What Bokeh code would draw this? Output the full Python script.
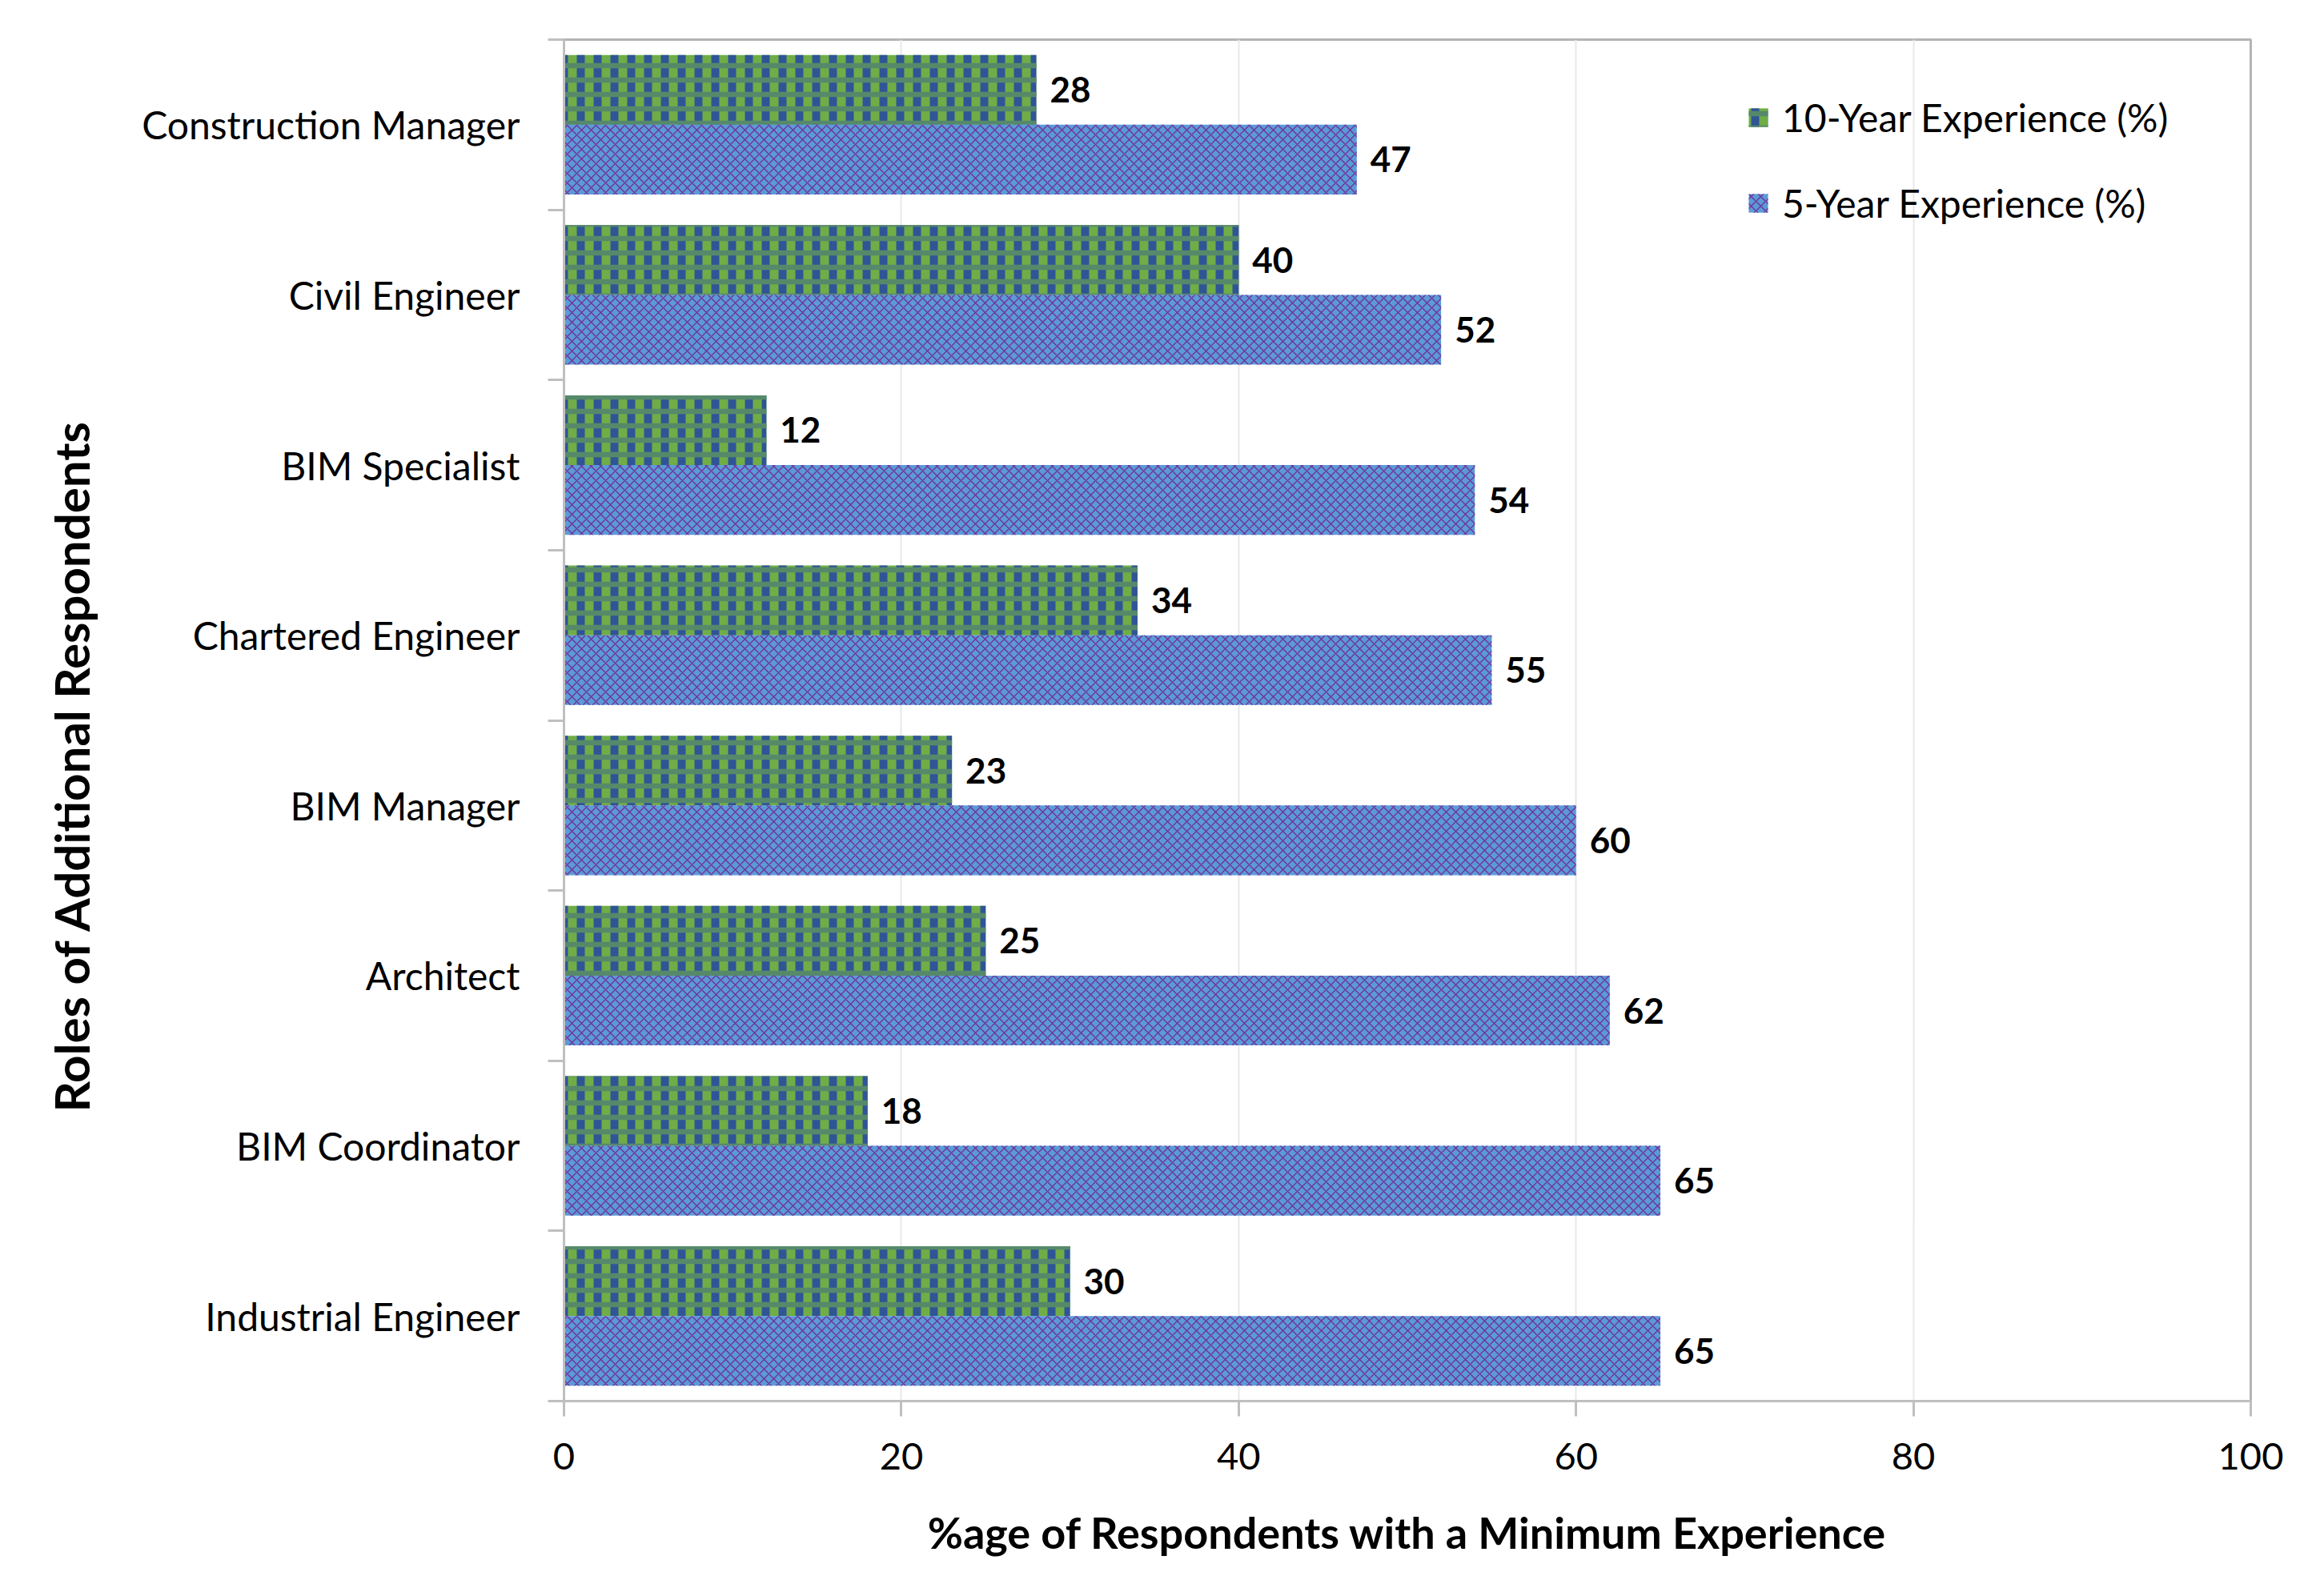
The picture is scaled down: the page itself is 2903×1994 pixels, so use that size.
from bokeh.plotting import figure
from bokeh.models import ColumnDataSource, FixedTicker, Legend, LegendItem, Range1d, Title
from bokeh.embed import file_html
from bokeh.resources import INLINE
from bokeh.core.properties import value

# ---- data (top to bottom as in the chart) ----
roles = ["Construction Manager", "Civil Engineer", "BIM Specialist", "Chartered Engineer",
         "BIM Manager", "Architect", "BIM Coordinator", "Industrial Engineer"]
ten_year = [28, 40, 12, 34, 23, 25, 18, 30]
five_year = [47, 52, 54, 55, 60, 62, 65, 65]
x_ticks = [0, 20, 40, 60, 80, 100]
series_names = ["10-Year Experience (%)", "5-Year Experience (%)"]
x_title = "%age of Respondents with a Minimum Experience"
y_title = "Roles of Additional Respondents"

# ---- styling ----
FONT_NAME = "Lato"
FONT = value(FONT_NAME)
GREEN, DKBLUE = "#70ad47", "#2f5597"
LTBLUE, PURPLE = "#5b9bd5", "#7030a0"
AXIS_GREY = "#bfbfbf"
BAR_H = 0.41
OFF = 0.205

n = len(roles)
centers = [float(n - i - 0.5) for i in range(n)]
src = ColumnDataSource(dict(
    role=roles,
    ten=ten_year,
    five=five_year,
    y_ten=[c + OFF for c in centers],
    y_five=[c - OFF for c in centers],
    ten_lbl=[str(v) for v in ten_year],
    five_lbl=[str(v) for v in five_year],
))

p = figure(width=2887, height=1978, x_range=Range1d(0, 100), y_range=Range1d(0, n),
           output_backend="svg", toolbar_location=None,
           min_border_left=704, min_border_right=76, min_border_top=49, min_border_bottom=228)
p.background_fill_color = "white"
p.border_fill_color = "white"
p.outline_line_color = "#b4b4b4"
p.outline_line_width = 3

r_ten = p.hbar(y="y_ten", left=0, right="ten", height=BAR_H, source=src,
               fill_color=GREEN, line_color=None,
               hatch_pattern="vertical_line", hatch_color=DKBLUE,
               hatch_weight=10, hatch_scale=21)
r_ten_b = p.hbar(y="y_ten", left=0, right="ten", height=BAR_H, source=src,
                 fill_alpha=0, line_color=None,
                 hatch_pattern="horizontal_line", hatch_color="#56896a",
                 hatch_weight=6.5, hatch_scale=18)
r_five = p.hbar(y="y_five", left=0, right="five", height=BAR_H, source=src,
                fill_color=LTBLUE, line_color=None,
                hatch_pattern="diagonal_cross", hatch_color=PURPLE,
                hatch_weight=1.4, hatch_scale=12)

lbl_kw = dict(x_offset=17, text_baseline="middle", text_align="left", text_font=FONT,
              text_font_style="bold", text_font_size="44px", text_color="black", source=src)
p.text(x="ten", y="y_ten", text="ten_lbl", **lbl_kw)
p.text(x="five", y="y_five", text="five_lbl", **lbl_kw)

# ---- axes ----
xa = p.xaxis[0]
xa.ticker = FixedTicker(ticks=x_ticks)
xa.axis_line_color = AXIS_GREY
xa.axis_line_width = 3
xa.major_tick_line_color = AXIS_GREY
xa.major_tick_line_width = 3
xa.major_tick_out = 19
xa.major_tick_in = 0
xa.minor_tick_line_color = None
xa.major_label_text_font = FONT_NAME
xa.major_label_text_font_size = "47px"
xa.major_label_text_color = "black"
xa.major_label_standoff = 33
xa.axis_label = x_title
xa.axis_label_text_font = FONT_NAME
xa.axis_label_text_font_style = "bold"
xa.axis_label_text_font_size = "54px"
xa.axis_label_text_color = "black"
xa.axis_label_standoff = 43

ya = p.yaxis[0]
ya.ticker = FixedTicker(ticks=centers, minor_ticks=[float(i) for i in range(n + 1)])
ya.major_label_overrides = {c: r for c, r in zip(centers, roles)}
ya.axis_line_color = AXIS_GREY
ya.axis_line_width = 3
ya.major_tick_out = 0
ya.major_tick_in = 0
ya.major_tick_line_color = None
ya.minor_tick_out = 20
ya.minor_tick_in = 0
ya.minor_tick_line_color = AXIS_GREY
ya.minor_tick_line_width = 3
ya.major_label_text_font = FONT_NAME
ya.major_label_text_font_size = "48px"
ya.major_label_text_color = "black"
ya.major_label_standoff = 35

# y-axis title as a side title (placed a bit below the centre, as in the reference)
p.add_layout(Title(text=y_title, align="left", offset=361, standoff=100,
                   text_font=FONT_NAME, text_font_style="bold", text_font_size="60px",
                   text_color="black"), "left")

p.xgrid.ticker = FixedTicker(ticks=x_ticks)
p.xgrid.grid_line_color = "#e8e8e8"
p.xgrid.grid_line_width = 2
p.ygrid.grid_line_color = None

legend = Legend(items=[LegendItem(label=series_names[0], renderers=[r_ten, r_ten_b]),
                       LegendItem(label=series_names[1], renderers=[r_five])],
                location="top_right", glyph_width=30, glyph_height=29,
                label_text_font=FONT_NAME, label_text_font_size="48px", label_text_color="black",
                label_standoff=15, label_width=516, spacing=50, padding=10, margin=69,
                border_line_color=None, background_fill_alpha=0)
p.add_layout(legend)

open("out.html", "w").write(file_html(p, INLINE))
